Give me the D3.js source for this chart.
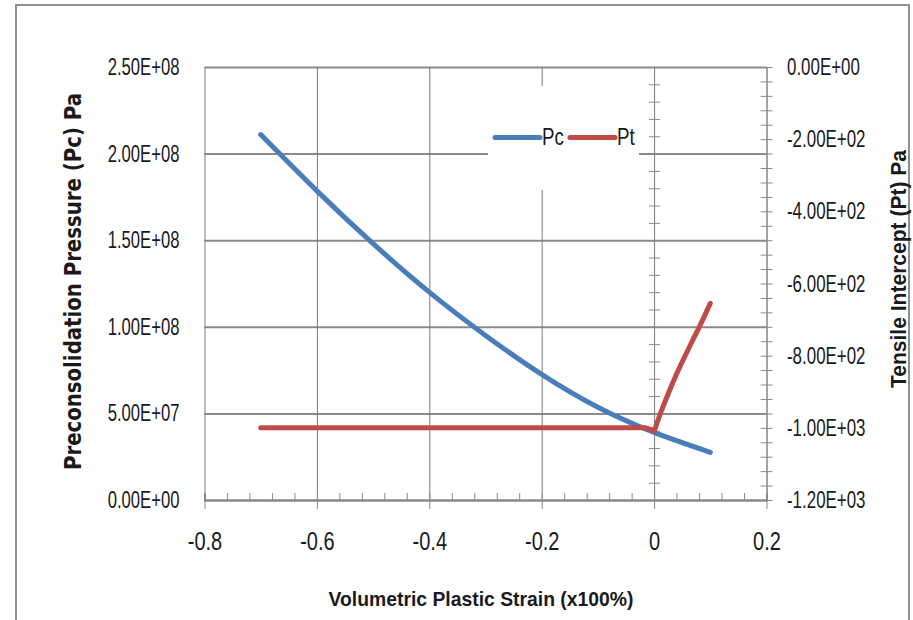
<!DOCTYPE html>
<html>
<head>
<meta charset="utf-8">
<script src="https://cdn.jsdelivr.net/npm/d3@7/dist/d3.min.js"></script>
<style>
  body { margin: 0; background: #fff; }
  svg { display: block; }
</style>
</head>
<body>
<div id="chart"></div>
<script>
// Preconsolidation pressure (left axis)
const pcStrain = [-0.7, -0.6, -0.5, -0.4, -0.3, -0.2, -0.1, 0, 0.1];
const pcValues = [2.11e8, 1.785e8, 1.48e8, 1.20e8, 9.5e7, 7.25e7, 5.35e7, 3.9e7, 2.75e7];

// Tensile intercept (right axis)
const ptStrain = [-0.7, -0.015, -0.005, 0, 0.01, 0.02, 0.03, 0.04, 0.05, 0.06, 0.07, 0.08, 0.09, 0.1];
const ptValues = [-1000, -1000, -1005, -1010, -965, -925, -887, -851, -817, -785, -753, -722, -689, -655];

const strainTicks = [-0.8, -0.6, -0.4, -0.2, 0, 0.2];
const strainMinor = d3.range(-0.8, 0.2001, 0.04);
const pcTicks = [0, 5e7, 1e8, 1.5e8, 2e8, 2.5e8];
const pcMinor = d3.range(0, 2.5e8 + 1, 1e7);
const ptTicks = [-1200, -1000, -800, -600, -400, -200, 0];
const ptMinor = d3.range(-1200, 1, 40);

const series = [
    { name: 'Pc', color: '#4a7ebb' },
    { name: 'Pt', color: '#be4b48' }
];

const W = 913, H = 620;
const plot = { left: 204.5, right: 766.5, top: 67, bottom: 500 };
const gridColor = '#8a8a8a';

// Excel style scientific labels, e.g. 2.50E+08
function sci(v) {
    const parts = v.toExponential(2).split('e');
    const e = +parts[1];
    return parts[0] + 'E' + (e < 0 ? '-' : '+') + String(Math.abs(e)).padStart(2, '0');
}

// squeeze tick labels horizontally around their anchor
function squeeze(sel, sx) {
    sel.each(function () {
        const t = d3.select(this);
        const x = +t.attr('x') || 0;
        t.attr('transform', `scale(${sx},1)`).attr('x', x / sx);
    });
}

const svg = d3.select('#chart')
    .append('svg')
    .attr('width', W)
    .attr('height', H);

// outer frame
svg.append('rect')
    .attr('x', 16).attr('y', 5)
    .attr('width', 893).attr('height', 700)
    .attr('fill', '#fff')
    .attr('stroke', '#8f8f8f')
    .attr('stroke-width', 2);

// Scales
const x = d3.scaleLinear().domain([-0.8, 0.2]).range([plot.left, plot.right]);
const yL = d3.scaleLinear().domain([0, 2.5e8]).range([plot.bottom, plot.top]);
const yR = d3.scaleLinear().domain([-1200, 0]).range([plot.bottom, plot.top]);

// Gridlines
svg.append('g')
    .attr('transform', `translate(${plot.left},0)`)
    .call(d3.axisLeft(yL).tickValues(pcTicks).tickSize(-(plot.right - plot.left)).tickFormat(''))
    .call(g => g.select('.domain').remove())
    .call(g => g.selectAll('.tick line').attr('stroke', gridColor).attr('stroke-width', 2));

svg.append('g')
    .attr('transform', `translate(0,${plot.bottom})`)
    .call(d3.axisBottom(x).tickValues(strainTicks).tickSize(-(plot.bottom - plot.top)).tickFormat(''))
    .call(g => g.select('.domain').remove())
    .call(g => g.selectAll('.tick line').attr('stroke', '#7a7a7a').attr('stroke-width', 1));

// X axis: minor ticks up, major ticks down, labels
svg.append('g')
    .attr('transform', `translate(0,${plot.bottom})`)
    .call(d3.axisBottom(x).tickValues(strainMinor).tickSize(-7).tickFormat(''))
    .call(g => g.select('.domain').attr('stroke', gridColor).attr('stroke-width', 2))
    .call(g => g.selectAll('.tick line').attr('stroke', gridColor));

svg.append('g')
    .attr('transform', `translate(0,${plot.bottom})`)
    .call(d3.axisBottom(x).tickValues(strainTicks).tickSize(9).tickFormat(d => String(+d.toFixed(1))))
    .call(g => g.select('.domain').remove())
    .call(g => g.selectAll('.tick line').attr('stroke', gridColor))
    .call(g => g.selectAll('.tick text')
        .attr('y', 41).attr('dy', '0.36em')
        .attr('fill', '#1a1a1a')
        .style('font-family', '"Liberation Sans", Arial, sans-serif')
        .style('font-size', '25px'))
    .call(g => squeeze(g.selectAll('.tick text'), 0.8));

// Primary vertical axis crosses at strain 0: minor ticks only
svg.append('g')
    .attr('transform', `translate(${x(0)},0)`)
    .call(d3.axisRight(yL).tickValues(pcMinor).tickSize(6).tickFormat(''))
    .call(g => g.select('.domain').remove())
    .call(g => g.selectAll('.tick line').attr('x1', -5).attr('x2', 6).attr('stroke', gridColor));

// Left labels (placed low, at the plot edge)
svg.append('g')
    .attr('transform', `translate(${plot.left},0)`)
    .call(d3.axisLeft(yL).tickValues(pcTicks).tickSize(0).tickPadding(25).tickFormat(sci))
    .call(g => g.select('.domain').remove())
    .call(g => g.selectAll('.tick text')
        .attr('fill', '#1a1a1a')
        .style('font-family', '"Liberation Sans", Arial, sans-serif')
        .style('font-size', '23.5px'))
    .call(g => squeeze(g.selectAll('.tick text'), 0.71));

// Right (secondary) axis
svg.append('g')
    .attr('transform', `translate(${plot.right},0)`)
    .call(d3.axisRight(yR).tickValues(ptMinor).tickSize(6).tickFormat(''))
    .call(g => g.select('.domain').attr('stroke', gridColor))
    .call(g => g.selectAll('.tick line').attr('x1', -6).attr('x2', 6).attr('stroke', gridColor));

svg.append('g')
    .attr('transform', `translate(${plot.right},0)`)
    .call(d3.axisRight(yR).tickValues(ptTicks).tickSize(0).tickPadding(20.5).tickFormat(sci))
    .call(g => g.select('.domain').remove())
    .call(g => g.selectAll('.tick text')
        .attr('fill', '#1a1a1a')
        .style('font-family', '"Liberation Sans", Arial, sans-serif')
        .style('font-size', '23.5px'))
    .call(g => squeeze(g.selectAll('.tick text'), 0.72));

// Legend box (covers the gridlines behind it)
const legend = svg.append('g');
legend.append('rect')
    .attr('x', 488).attr('y', 86)
    .attr('width', 151).attr('height', 104)
    .attr('fill', '#fff');
const legendX = [495, 570];
series.forEach((s, i) => {
    legend.append('line')
        .attr('x1', legendX[i]).attr('x2', legendX[i] + 45)
        .attr('y1', 137.5).attr('y2', 137.5)
        .attr('stroke', s.color)
        .attr('stroke-width', 5)
        .attr('stroke-linecap', 'round');
    legend.append('text')
        .attr('transform', 'scale(0.78,1)')
        .attr('x', (legendX[i] + 47) / 0.78)
        .attr('y', 137)
        .attr('dy', '0.35em')
        .attr('fill', '#1a1a1a')
        .style('font-family', '"Liberation Sans", Arial, sans-serif')
        .style('font-size', '24px')
        .text(s.name);
});

// Lines
const pcLine = d3.line()
    .x((d, i) => x(pcStrain[i]))
    .y(d => yL(d))
    .curve(d3.curveNatural);
svg.append('path')
    .datum(pcValues)
    .attr('d', pcLine)
    .attr('fill', 'none')
    .attr('stroke', series[0].color)
    .attr('stroke-width', 5)
    .attr('stroke-linecap', 'round')
    .attr('stroke-linejoin', 'round');

const ptLine = d3.line()
    .x((d, i) => x(ptStrain[i]))
    .y(d => yR(d));
svg.append('path')
    .datum(ptValues)
    .attr('d', ptLine)
    .attr('fill', 'none')
    .attr('stroke', series[1].color)
    .attr('stroke-width', 5)
    .attr('stroke-linecap', 'round')
    .attr('stroke-linejoin', 'round');

// Axis titles
svg.append('text')
    .attr('transform', 'translate(73,281.5) rotate(-90)')
    .attr('text-anchor', 'middle')
    .attr('dy', '0.36em')
    .attr('textLength', 377)
    .attr('lengthAdjust', 'spacingAndGlyphs')
    .attr('fill', '#1a1a1a')
    .style('font-family', '"DejaVu Sans", Verdana, sans-serif')
    .style('font-weight', 'bold')
    .style('font-size', '23px')
    .text('Preconsolidation Pressure (Pc) Pa');

svg.append('text')
    .attr('transform', 'translate(898,269) rotate(-90)')
    .attr('text-anchor', 'middle')
    .attr('dy', '0.36em')
    .attr('textLength', 238)
    .attr('lengthAdjust', 'spacingAndGlyphs')
    .attr('fill', '#1a1a1a')
    .style('font-family', '"Liberation Sans", Arial, sans-serif')
    .style('font-weight', 'bold')
    .style('font-size', '22px')
    .text('Tensile Intercept (Pt) Pa');

svg.append('text')
    .attr('x', 481)
    .attr('y', 598)
    .attr('text-anchor', 'middle')
    .attr('dy', '0.36em')
    .attr('textLength', 305)
    .attr('lengthAdjust', 'spacingAndGlyphs')
    .attr('fill', '#1a1a1a')
    .style('font-family', '"Liberation Sans", Arial, sans-serif')
    .style('font-weight', 'bold')
    .style('font-size', '21px')
    .text('Volumetric Plastic Strain (x100%)');
</script>
</body>
</html>
